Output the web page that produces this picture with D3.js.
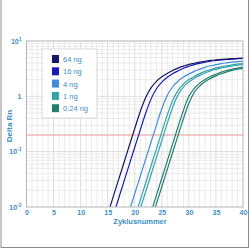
<!DOCTYPE html>
<html>
<head>
<meta charset="utf-8">
<script src="https://cdn.jsdelivr.net/npm/d3@7"></script>
<style>
  body { margin: 0; background: #fff; }
  text { font-family: "Liberation Sans", Arial, sans-serif; }
</style>
</head>
<body>
<div id="container"></div>
<script>
/* CONSTANTS AND GLOBALS */
const width = 250;
const height = 250;
const margin = { top: 41, bottom: 43, left: 26.5, right: 7 };
const textColor = "#3a8fc6";

/* DATA */
const seriesLabels = ["64 ng", "16 ng", "4 ng", "1 ng", "0.24 ng"];
const seriesColors = ["#16166a", "#1a1ab8", "#3f8ddc", "#35a3aa", "#22806a"];
const xTicks = [0, 5, 10, 15, 20, 25, 30, 35, 40];
const yTicks = [0.01, 0.1, 1, 10];
const yTickExp = ["-2", "-1", "", "1"];
const threshold = 0.2;

// Delta Rn per cycle, first value belongs to the start cycle
const start64 = 14;
const rn64 = [0.0036, 0.0074, 0.0151, 0.0309, 0.063, 0.129, 0.263, 0.525, 0.944, 1.42, 1.86, 2.25, 2.59, 2.92, 3.24, 3.52, 3.78, 3.96, 4.15, 4.31, 4.46, 4.56, 4.65, 4.72, 4.79, 4.84, 4.90];
const start16 = 15;
const rn16 = [0.0034, 0.0069, 0.0141, 0.0288, 0.0589, 0.120, 0.244, 0.49, 0.89, 1.37, 1.81, 2.21, 2.56, 2.88, 3.21, 3.49, 3.75, 3.94, 4.13, 4.30, 4.44, 4.55, 4.63, 4.72, 4.78, 4.84];
const start4 = 18;
const rn4 = [0.0042, 0.0085, 0.0174, 0.0355, 0.0724, 0.148, 0.302, 0.596, 1.04, 1.49, 1.88, 2.23, 2.53, 2.82, 3.11, 3.35, 3.57, 3.73, 3.90, 4.03, 4.15, 4.25, 4.32];
const start1a = 19;
const rn1a = [0.0032, 0.0065, 0.0132, 0.0269, 0.055, 0.111, 0.228, 0.457, 0.84, 1.28, 1.67, 2.01, 2.30, 2.57, 2.83, 3.06, 3.27, 3.42, 3.57, 3.70, 3.81, 3.90];
const start1b = 20;
const rn1b = [0.0045, 0.0092, 0.0187, 0.0382, 0.078, 0.159, 0.324, 0.63, 1.07, 1.48, 1.82, 2.12, 2.39, 2.64, 2.88, 3.08, 3.27, 3.40, 3.53, 3.65, 3.75];
const start024a = 22;
const rn024a = [0.0039, 0.0079, 0.0162, 0.0331, 0.0676, 0.138, 0.282, 0.562, 1.0, 1.39, 1.73, 2.02, 2.28, 2.51, 2.74, 2.93, 3.11, 3.24, 3.37];
const start024b = 22;
const rn024b = [0.0027, 0.0056, 0.0114, 0.0232, 0.0473, 0.0966, 0.197, 0.398, 0.75, 1.18, 1.54, 1.84, 2.11, 2.34, 2.56, 2.77, 2.94, 3.09, 3.21];

const curves = [
  { group: 4, start: start024b, values: rn024b },
  { group: 4, start: start024a, values: rn024a },
  { group: 3, start: start1b, values: rn1b },
  { group: 3, start: start1a, values: rn1a },
  { group: 2, start: start4, values: rn4 },
  { group: 1, start: start16, values: rn16 },
  { group: 0, start: start64, values: rn64 },
].map(c => ({ group: c.group, points: c.values.map((v, i) => ({ cycle: c.start + i, rn: v })) }));

/* SCALES */
const xScale = d3.scaleLinear()
  .domain([0, 40])
  .range([margin.left, width - margin.right]);

const yScale = d3.scaleLog()
  .domain([0.01, 10])
  .range([height - margin.bottom, margin.top]);

const svg = d3.select("#container")
  .append("svg")
  .attr("width", width)
  .attr("height", height);

// outer frame
svg.append("rect")
  .attr("x", 1).attr("y", -2)
  .attr("width", 247.5).attr("height", 249.5)
  .attr("fill", "none")
  .attr("stroke", "#8c8c8c")
  .attr("stroke-width", 1);

svg.append("defs").append("clipPath")
  .attr("id", "plot-clip")
  .append("rect")
  .attr("x", margin.left)
  .attr("y", margin.top)
  .attr("width", width - margin.left - margin.right)
  .attr("height", height - margin.top - margin.bottom);

/* GRID */
const grid = svg.append("g").attr("class", "grid");
grid.selectAll(".vminor")
  .data(d3.range(1, 40))
  .join("line")
  .attr("x1", d => xScale(d)).attr("x2", d => xScale(d))
  .attr("y1", margin.top).attr("y2", height - margin.bottom)
  .attr("stroke", d => d % 5 === 0 ? "#d4d4d4" : "#e6e6e6")
  .attr("stroke-width", 0.8);

grid.selectAll(".hminor")
  .data(yScale.ticks().filter(d => d > 0.01 && d < 10))
  .join("line")
  .attr("x1", margin.left).attr("x2", width - margin.right)
  .attr("y1", d => yScale(d)).attr("y2", d => yScale(d))
  .attr("stroke", d => yTicks.includes(d) ? "#d4d4d4" : "#e6e6e6")
  .attr("stroke-width", 0.8);

// threshold line
svg.append("line")
  .attr("x1", margin.left).attr("x2", width - margin.right)
  .attr("y1", yScale(threshold)).attr("y2", yScale(threshold))
  .attr("stroke", "#f0a0a0")
  .attr("stroke-width", 1);

/* CURVES */
const line = d3.line()
  .x(d => xScale(d.cycle))
  .y(d => yScale(d.rn))
  .curve(d3.curveMonotoneX);

svg.append("g")
  .attr("clip-path", "url(#plot-clip)")
  .selectAll(".curve")
  .data(curves)
  .join("path")
  .attr("class", "curve")
  .attr("d", d => line(d.points))
  .attr("fill", "none")
  .attr("stroke", d => seriesColors[d.group])
  .attr("stroke-width", 1.2);

// plot border
svg.append("rect")
  .attr("x", margin.left).attr("y", margin.top)
  .attr("width", width - margin.left - margin.right)
  .attr("height", height - margin.top - margin.bottom)
  .attr("fill", "none")
  .attr("stroke", "#b4b4b4")
  .attr("stroke-width", 1);

/* AXES */
const xAxis = svg.append("g")
  .attr("transform", `translate(0,${height - margin.bottom})`)
  .call(d3.axisBottom(xScale).tickValues(xTicks).tickSize(0).tickPadding(3));
xAxis.select(".domain").remove();
xAxis.selectAll("text")
  .attr("fill", textColor)
  .attr("font-size", 7)
  .attr("font-weight", "bold");

const yAxis = svg.append("g")
  .attr("transform", `translate(${margin.left},0)`)
  .call(d3.axisLeft(yScale).tickValues(yTicks).tickSize(0).tickPadding(5).tickFormat(""));
yAxis.select(".domain").remove();
yAxis.selectAll(".tick text")
  .attr("fill", textColor)
  .attr("font-size", 7)
  .attr("font-weight", "bold")
  .each(function(d) {
    const t = d3.select(this);
    const exp = yTickExp[yTicks.indexOf(d)];
    if (exp === "") {
      t.text("1");
      return;
    }
    t.append("tspan").text("10");
    t.append("tspan").attr("dy", -3).attr("font-size", 5).text(exp);
  });

svg.append("text")
  .attr("transform", `translate(12,${(margin.top + height - margin.bottom) / 2 + 2}) rotate(-90)`)
  .attr("text-anchor", "middle")
  .attr("fill", textColor)
  .attr("font-size", 8)
  .attr("font-weight", "bold")
  .text("Delta Rn");

svg.append("text")
  .attr("x", 140)
  .attr("y", 224)
  .attr("text-anchor", "middle")
  .attr("fill", textColor)
  .attr("font-size", 7.5)
  .attr("font-weight", "bold")
  .text("Zyklusnummer");

/* LEGEND */
const legend = svg.append("g").attr("transform", "translate(42,49)");
legend.append("rect")
  .attr("width", 55).attr("height", 69)
  .attr("fill", "#fff")
  .attr("stroke", "#d0d0d0")
  .attr("stroke-width", 0.8);

const item = legend.selectAll(".item")
  .data(seriesLabels)
  .join("g")
  .attr("class", "item")
  .attr("transform", (d, i) => `translate(10,${6 + i * 12.3})`);

item.append("rect")
  .attr("width", 7).attr("height", 8)
  .attr("fill", (d, i) => seriesColors[i]);

item.append("text")
  .attr("x", 11).attr("y", 7)
  .attr("fill", textColor)
  .attr("font-size", 7.5)
  .text(d => d);
</script>
</body>
</html>
